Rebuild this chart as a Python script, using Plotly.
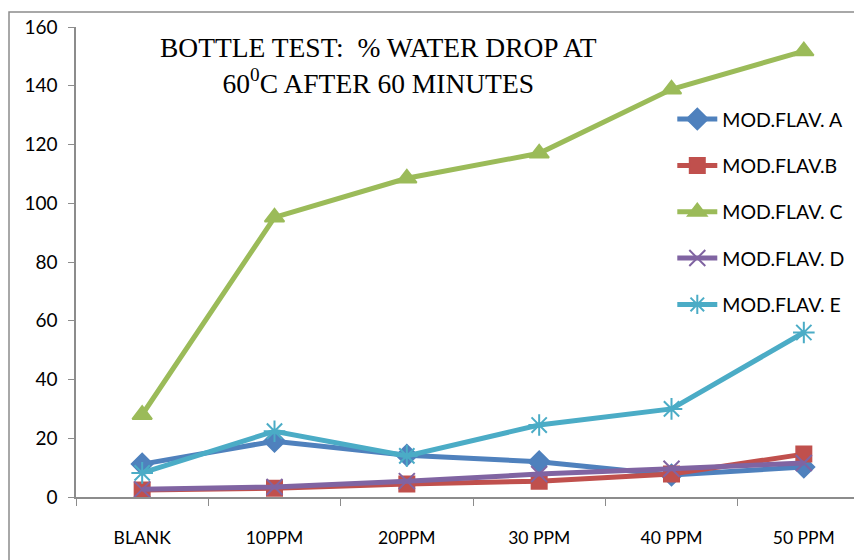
import plotly.graph_objects as go

categories = ["BLANK", "10PPM", "20PPM", "30 PPM", "40 PPM", "50 PPM"]
series_names = ["MOD.FLAV. A", "MOD.FLAV.B", "MOD.FLAV. C", "MOD.FLAV. D", "MOD.FLAV. E"]
flav_a = [11.2, 19.0, 14.2, 12.0, 7.5, 10.2]
flav_b = [2.4, 3.0, 4.4, 5.4, 7.8, 14.6]
flav_c = [28.0, 95.2, 108.5, 117.0, 138.8, 151.8]
flav_d = [2.6, 3.4, 5.4, 7.8, 9.6, 11.6]
flav_e = [8.2, 22.4, 14.0, 24.5, 30.0, 56.0]
y_ticks = [0, 20, 40, 60, 80, 100, 120, 140, 160]

colors = ["#4F81BD", "#C0504D", "#9BBB59", "#8064A2", "#4BACC6"]
symbols = ["diamond", "square", "triangle-up", "x-thin-open", "asterisk-open"]
sizes = [16, 15, 17, 16, 18]
values = [flav_a, flav_b, flav_c, flav_d, flav_e]

fig = go.Figure()
for i, (name, vals) in enumerate(zip(series_names, values)):
    fig.add_trace(go.Scatter(
        x=categories, y=vals, name=name, mode="lines+markers",
        legendgroup=name,
        line=dict(color=colors[i], width=5),
        marker=dict(symbol=symbols[i], size=sizes[i], color=colors[i],
                    line=dict(color=colors[i], width=2)),
    ))

# page body has an 8px margin, so the figure is laid out 8px up/left of screen coords
L, T, B = 68, 19, 71
PW = 862 - L
PH = 560 - T - B

fig.update_layout(
    width=862, height=560,
    margin=dict(l=L, r=0, t=T, b=B),
    paper_bgcolor="white", plot_bgcolor="white",
    font=dict(family="Lato, Open Sans, sans-serif", size=16, color="black"),
    showlegend=True,
    legend=dict(x=0.751, y=0.845, xanchor="left", yanchor="top",
                font=dict(size=19.5), tracegroupgap=18,
                bgcolor="rgba(0,0,0,0)", itemwidth=40),
    xaxis=dict(range=[-0.5, 5.5], showline=True, linecolor="#8c8c8c", linewidth=1.5,
               ticks="outside", tickson="boundaries", ticklen=7, tickcolor="#8c8c8c",
               showgrid=False, zeroline=False, tickfont=dict(size=17.5),
               ticklabelstandoff=24, fixedrange=True),
    yaxis=dict(range=[0, 160], tickvals=y_ticks, showline=True, linecolor="#8c8c8c",
               linewidth=1.5, ticks="outside", ticklen=6, tickcolor="#8c8c8c",
               showgrid=False, zeroline=False, tickfont=dict(size=19),
               ticklabelstandoff=7),
    annotations=[dict(
        text="BOTTLE TEST:  % WATER DROP AT<br>60<sup>0</sup>C AFTER 60 MINUTES",
        xref="paper", yref="paper", x=(370 - L) / PW, y=1 - (22 - T) / PH,
        xanchor="center", yanchor="top",
        showarrow=False, font=dict(family="Liberation Serif, Times New Roman, serif", size=27.5),
        align="center")],
    shapes=[dict(type="rect", xref="paper", yref="paper",
                 x0=(1 - L) / PW, x1=1.2, y0=-0.3, y1=1 + (T - 4) / PH,
                 line=dict(color="#8c8c8c", width=1.5))],
)

fig.write_html("out.html")
